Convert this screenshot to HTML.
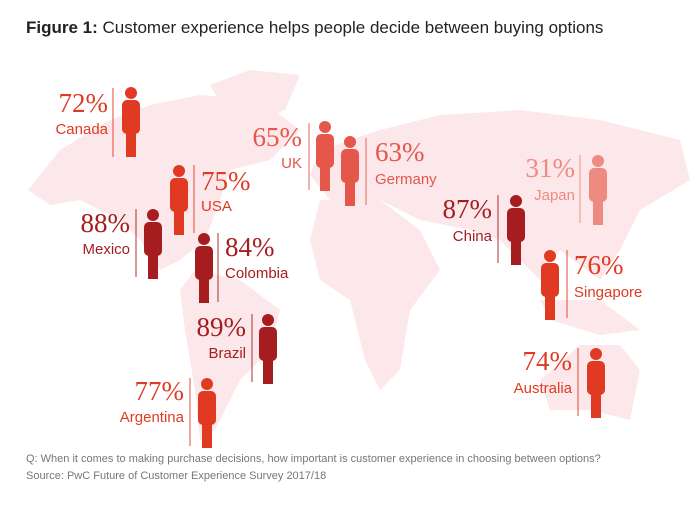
<!DOCTYPE html>
<html><head><meta charset="utf-8"><style>
body{margin:0;background:#fff;width:700px;height:510px;overflow:hidden}
svg{display:block}
.p{font-family:"Liberation Serif",serif;font-size:27px}
.l{font-family:"Liberation Sans",sans-serif;font-size:15px}
</style></head><body>
<svg width="700" height="510" xmlns="http://www.w3.org/2000/svg">
<text x="26" y="33" font-family="Liberation Sans,sans-serif" font-size="17" fill="#222"><tspan font-weight="bold">Figure 1:</tspan> Customer experience helps people decide between buying options</text>
<g fill="#fce8ea">
<path d="M28 190 L60 150 L110 120 L150 105 L200 95 L260 100 L300 130 L270 160 L230 170 L220 200 L205 240 L180 260 L160 270 L140 240 L120 220 L80 200 L50 205 Z"/>
<path d="M210 85 L250 70 L300 75 L285 110 L255 125 L225 110 Z"/>
<path d="M195 270 L240 280 L280 310 L270 350 L240 380 L215 430 L200 440 L195 390 L185 330 L180 290 Z"/>
<path d="M320 150 L380 130 L440 115 L520 110 L600 120 L680 140 L690 180 L640 210 L620 250 L600 280 L560 250 L540 280 L500 240 L470 230 L420 220 L380 200 L330 200 L310 175 Z"/>
<path d="M320 200 L380 200 L420 230 L440 270 L410 310 L400 370 L380 390 L365 360 L350 300 L320 280 L310 240 Z"/>
<path d="M540 380 L580 345 L620 345 L640 370 L630 420 L590 410 L550 410 Z"/>
<path d="M540 300 L600 300 L640 330 L600 335 L550 320 Z"/>
</g>
<defs>
<g id="m"><circle cx="9" cy="6" r="6"/><rect x="0" y="13" width="18" height="34" rx="5"/><rect x="4" y="40" width="10" height="30"/></g>
</defs>
<g stroke-width="1.3">
<line x1="113" y1="88" x2="113" y2="157" stroke="#e03a22" opacity=".7"/>
<line x1="194" y1="165" x2="194" y2="233" stroke="#e03a22" opacity=".7"/>
<line x1="136" y1="209" x2="136" y2="277" stroke="#a51d1f" opacity=".7"/>
<line x1="218" y1="233" x2="218" y2="302" stroke="#a51d1f" opacity=".7"/>
<line x1="309" y1="123" x2="309" y2="190" stroke="#e4574a" opacity=".7"/>
<line x1="366" y1="138" x2="366" y2="205" stroke="#e4574a" opacity=".7"/>
<line x1="252" y1="314" x2="252" y2="382" stroke="#a51d1f" opacity=".7"/>
<line x1="190" y1="378" x2="190" y2="446" stroke="#e03a22" opacity=".7"/>
<line x1="580" y1="155" x2="580" y2="223" stroke="#ef8a80" opacity=".7"/>
<line x1="498" y1="195" x2="498" y2="263" stroke="#a51d1f" opacity=".7"/>
<line x1="567" y1="250" x2="567" y2="318" stroke="#e03a22" opacity=".7"/>
<line x1="578" y1="348" x2="578" y2="416" stroke="#e03a22" opacity=".7"/>
</g>
<use href="#m" x="122" y="87" fill="#e03a22"/>
<use href="#m" x="170" y="165" fill="#e03a22"/>
<use href="#m" x="144" y="209" fill="#a51d1f"/>
<use href="#m" x="195" y="233" fill="#a51d1f"/>
<use href="#m" x="316" y="121" fill="#e4574a"/>
<use href="#m" x="341" y="136" fill="#e4574a"/>
<use href="#m" x="259" y="314" fill="#a51d1f"/>
<use href="#m" x="198" y="378" fill="#e03a22"/>
<use href="#m" x="589" y="155" fill="#ef8a80"/>
<use href="#m" x="507" y="195" fill="#a51d1f"/>
<use href="#m" x="541" y="250" fill="#e03a22"/>
<use href="#m" x="587" y="348" fill="#e03a22"/>
<g text-anchor="end">
<text class="p" x="108" y="112" fill="#e03a22">72%</text><text class="l" x="108" y="134" fill="#e03a22">Canada</text>
<text class="p" x="130" y="232" fill="#a51d1f">88%</text><text class="l" x="130" y="254" fill="#a51d1f">Mexico</text>
<text class="p" x="302" y="146" fill="#e4574a">65%</text><text class="l" x="302" y="168" fill="#e4574a">UK</text>
<text class="p" x="246" y="336" fill="#a51d1f">89%</text><text class="l" x="246" y="358" fill="#a51d1f">Brazil</text>
<text class="p" x="184" y="400" fill="#e03a22">77%</text><text class="l" x="184" y="422" fill="#e03a22">Argentina</text>
<text class="p" x="575" y="177" fill="#ef8a80">31%</text><text class="l" x="575" y="200" fill="#ef8a80">Japan</text>
<text class="p" x="492" y="218" fill="#a51d1f">87%</text><text class="l" x="492" y="241" fill="#a51d1f">China</text>
<text class="p" x="572" y="370" fill="#e03a22">74%</text><text class="l" x="572" y="393" fill="#e03a22">Australia</text>
</g>
<text class="p" x="201" y="190" fill="#e03a22">75%</text><text class="l" x="201" y="211" fill="#e03a22">USA</text>
<text class="p" x="225" y="256" fill="#a51d1f">84%</text><text class="l" x="225" y="278" fill="#a51d1f">Colombia</text>
<text class="p" x="375" y="161" fill="#e4574a">63%</text><text class="l" x="375" y="184" fill="#e4574a">Germany</text>
<text class="p" x="574" y="274" fill="#e03a22">76%</text><text class="l" x="574" y="297" fill="#e03a22">Singapore</text>
<text x="26" y="462" font-family="Liberation Sans,sans-serif" font-size="11" fill="#777">Q: When it comes to making purchase decisions, how important is customer experience in choosing between options?</text>
<text x="26" y="479" font-family="Liberation Sans,sans-serif" font-size="11" fill="#777">Source: PwC Future of Customer Experience Survey 2017/18</text>
</svg>
</body></html>
